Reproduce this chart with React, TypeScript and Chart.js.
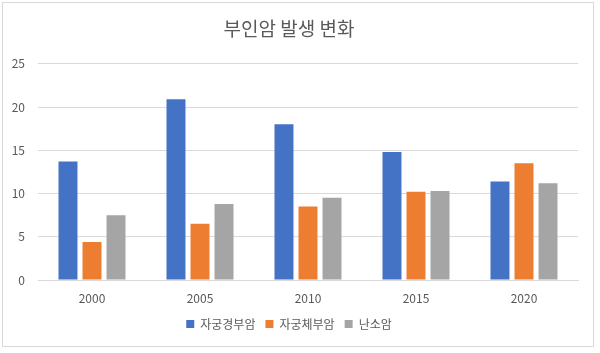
import React, { useEffect, useRef } from "react";
import { Chart, registerables } from "chart.js";

Chart.register(...registerables);

const years = ["2000", "2005", "2010", "2015", "2020"];
const cervical = [13.7, 20.9, 18.0, 14.8, 11.4];
const endometrial = [4.4, 6.5, 8.5, 10.2, 13.5];
const ovarian = [7.5, 8.8, 9.5, 10.3, 11.2];
const seriesNames = ["자궁경부암", "자궁체부암", "난소암"];
const titleText = "부인암 발생 변화";

const FONT = "'Noto Sans CJK KR', 'Noto Sans', sans-serif";
const TEXT = "#595959";

export default function App() {
  const ref = useRef<HTMLCanvasElement | null>(null);
  useEffect(() => {
    if (!ref.current) return;
    const chart = new Chart(ref.current, {
      type: "bar",
      data: {
        labels: years,
        datasets: [
          { label: seriesNames[0], data: cervical, backgroundColor: "#4472C4" },
          { label: seriesNames[1], data: endometrial, backgroundColor: "#ED7D31" },
          { label: seriesNames[2], data: ovarian, backgroundColor: "#A5A5A5" },
        ].map((d) => ({ ...d, categoryPercentage: 0.667, barPercentage: 0.79 })),
      },
      options: {
        animation: false,
        responsive: false,
        maintainAspectRatio: false,
        layout: { padding: { left: 0, right: 22, top: 0, bottom: 13 } },
        plugins: {
          title: {
            display: true,
            text: titleText,
            color: TEXT,
            font: { family: FONT, size: 19, weight: "normal", lineHeight: 1.2 },
            padding: { top: 17, bottom: 24 },
          },
          legend: {
            position: "bottom",
            labels: {
              color: TEXT,
              font: { family: FONT, size: 12 },
              boxWidth: 8,
              boxHeight: 8,
              padding: 10,
            },
          },
          tooltip: { enabled: false },
        },
        scales: {
          x: {
            grid: { display: false, drawTicks: false },
            border: { display: true, color: "#d9d9d9" },
            ticks: { color: TEXT, font: { family: FONT, size: 12 }, padding: 11 },
            afterFit: (s: any) => {
              s.height = 28;
            },
          },
          y: {
            min: 0,
            max: 25,
            ticks: { stepSize: 5, color: TEXT, font: { family: FONT, size: 12 }, padding: 13 },
            grid: { color: "#d9d9d9", drawTicks: false },
            border: { display: false },
            afterFit: (s: any) => {
              s.width = 38;
            },
          },
        },
      },
    });
    return () => chart.destroy();
  }, []);
  return (
    <div style={{ position: "fixed", left: 0, top: 0, width: 600, height: 353, background: "#fff" }}>
      <canvas ref={ref} width={600} height={353} style={{ position: "absolute", left: 0, top: 0 }} />
      <div
        style={{
          position: "absolute",
          left: 2,
          top: 2,
          width: 590,
          height: 343,
          border: "1px solid #d9d9d9",
          pointerEvents: "none",
        }}
      />
    </div>
  );
}
